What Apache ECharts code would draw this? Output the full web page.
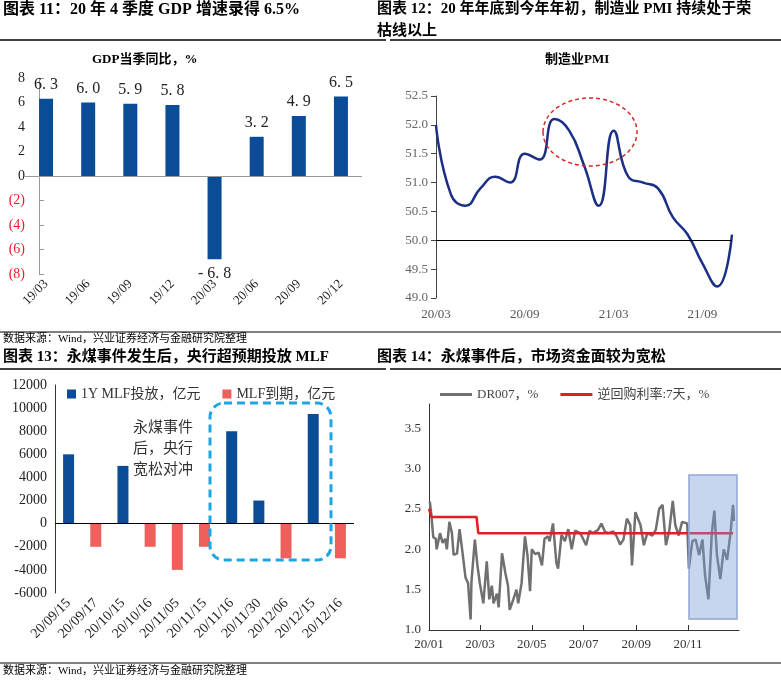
<!DOCTYPE html>
<html><head><meta charset="utf-8">
<script src="https://cdn.jsdelivr.net/npm/echarts@6/dist/echarts.min.js"></script>
<style>html,body{margin:0;padding:0;background:#fff}#c{width:781px;height:682px}</style>
</head><body><div id="c"></div>
<script>
const F = '"Liberation Serif","Noto Sans CJK SC",serif';
// Chart 11
const gdpCats = ['19/03','19/06','19/09','19/12','20/03','20/06','20/09','20/12'];
const gdpVals = [6.3,6.0,5.9,5.8,-6.8,3.2,4.9,6.5];
// Chart 12
const pmiCats = ['20/03','20/04','20/05','20/06','20/07','20/08','20/09','20/10','20/11','20/12','21/01','21/02','21/03','21/04','21/05','21/06','21/07','21/08','21/09','21/10','21/11'];
const pmiVals = [52.0,50.8,50.6,50.9,51.1,51.0,51.5,51.4,52.1,51.9,51.3,50.6,51.9,51.1,51.0,50.9,50.4,50.1,49.6,49.2,50.1];
// Chart 13
const mlfCats = ['20/09/15','20/09/17','20/10/15','20/10/16','20/11/05','20/11/15','20/11/16','20/11/30','20/12/06','20/12/15','20/12/16'];
const mlfIn = [6000,null,5000,null,null,null,8000,2000,null,9500,null];
const mlfOut = [null,-2000,null,-2000,-4000,-2000,null,null,-3000,null,-3000];
// Chart 14 (x = day of 2020)
const drDays = [1,3,5,8,9,13,16,19,21,24,27,29,33,36,39,43,46,49,50,54,57,60,64,68,71,74,76,80,82,86,90,93,95,99,103,105,109,113,116,119,121,125,129,133,136,140,142,146,150,152,156,160,164,168,172,178,181,185,189,193,199,203,207,211,217,221,225,229,233,237,239,243,249,253,257,263,267,271,275,279,283,287,290,294,298,304,306,310,314,318,322,325,329,333,336,339,343,347,351,355,358,359];
const drVals = [2.59,2.40,2.15,2.13,2.0,2.2,2.08,2.13,2.0,2.34,2.2,1.93,1.95,2.25,2.0,1.65,1.58,1.13,1.6,2.12,1.8,1.57,1.33,1.85,1.38,1.55,1.33,1.45,1.28,1.95,1.7,1.55,1.25,1.37,1.5,1.33,1.58,2.16,1.92,1.48,2.0,1.94,1.96,1.8,2.13,2.16,2.1,2.32,1.83,1.76,2.18,2.1,2.25,2.0,2.23,2.2,2.14,2.05,2.23,2.2,2.24,2.32,2.22,2.2,2.22,2.16,2.06,2.12,2.38,2.3,1.8,2.46,2.3,2.05,2.2,2.17,2.24,2.5,2.55,2.05,2.24,2.6,2.3,2.17,2.34,2.32,1.76,2.1,2.12,1.93,2.12,1.68,1.38,2.2,2.48,1.93,1.63,2.0,1.87,2.2,2.55,2.35];
const repoDays = [0,3,56,58,358];
const repoVals = [2.5,2.4,2.4,2.2,2.2];
const monthTicks = [0,60,121,182,244,305];
const monthLabels = ['20/01','20/03','20/05','20/07','20/09','20/11'];

const chart = echarts.init(document.getElementById('c'));
const txt = (x,y,t,o) => ({type:'text',left:x,top:y,style:Object.assign({text:t,font:'bold 15px '+F,fill:'#000'},o||{})});
const hl = (x1,x2,y,w) => ({type:'line',shape:{x1,y1:y,x2,y2:y},style:{stroke:'#000',lineWidth:w||1.5}});
const zeroLine = {silent:true,symbol:'none',label:{show:false},lineStyle:{color:'#000',type:'solid',width:1},data:[{yAxis:0}]};

chart.setOption({
  animation:false,
  textStyle:{fontFamily:F},
  graphic:[
    txt(3,2,'图表 11：20 年 4 季度 GDP 增速录得 6.5%',{font:'bold 16px '+F}),
    txt(377,2,'图表 12：20 年年底到今年年初，制造业 PMI 持续处于荣',{font:'bold 15px '+F}),
    txt(377,24,'枯线以上',{font:'bold 15px '+F}),
    hl(0,386,40), hl(390,781,40),
    txt(92,53,'GDP当季同比，%',{font:'bold 13px '+F}),
    txt(545,53,'制造业PMI',{font:'bold 13px '+F}),
    hl(0,781,332,1.2),
    txt(3,334,'数据来源：Wind，兴业证券经济与金融研究院整理',{font:'11px '+F}),
    txt(3,350,'图表 13：永煤事件发生后，央行超预期投放 MLF',{font:'bold 15px '+F}),
    txt(377,350,'图表 14：永煤事件后，市场资金面较为宽松',{font:'bold 15px '+F}),
    hl(0,386,369), hl(390,781,369),
    hl(0,781,663,1.2),
    txt(3,666,'数据来源：Wind，兴业证券经济与金融研究院整理',{font:'11px '+F}),
    txt(133,418,'永煤事件\n后，央行\n宽松对冲',{font:'15px '+F,fill:'#333',lineHeight:21}),
    {type:'rect',shape:{x:210,y:403,width:121,height:157,r:14},style:{fill:'none',stroke:'#1ea5e8',lineWidth:3,lineDash:[8,5]},z:100},
    {type:'ellipse',shape:{cx:590,cy:132,rx:47,ry:34},style:{fill:'none',stroke:'#d42a2a',lineWidth:1.5,lineDash:[4,3]},z:100},
    {type:'rect',shape:{x:689,y:475,width:48,height:144},style:{fill:'rgba(125,155,215,0.42)',stroke:'#8ea6d8',lineWidth:1.5},z:100}
  ],
  legend:[
    {left:62,top:382,itemWidth:9,itemHeight:9,itemGap:22,icon:'rect',textStyle:{fontFamily:F,fontSize:14,color:'#333'},data:['1Y MLF投放，亿元','MLF到期，亿元']},
    {left:435,top:383,itemWidth:32,itemHeight:3,itemGap:22,textStyle:{fontFamily:F,fontSize:13,color:'#444'},data:[{name:'DR007，%',icon:'rect'},{name:'逆回购利率:7天，%',icon:'rect'}]}
  ],
  grid:[
    {left:25,top:78,width:337,height:196},
    {left:436,top:96,width:296,height:202},
    {left:55,top:385,width:299,height:208},
    {left:429,top:404,width:310,height:226}
  ],
  xAxis:[
    {gridIndex:0,type:'category',data:gdpCats,axisLine:{show:false,onZero:false},axisTick:{show:false},
     axisLabel:{fontFamily:F,fontSize:13,color:'#222',rotate:45,margin:8,interval:0}},
    {gridIndex:1,type:'category',data:pmiCats,boundaryGap:false,axisLine:{show:false,onZero:false},axisTick:{show:false},
     axisLabel:{fontFamily:F,fontSize:13,color:'#555',interval:(i)=>i%6===0,margin:10}},
    {gridIndex:2,type:'category',data:mlfCats,axisLine:{show:false,onZero:false},axisTick:{show:false},
     axisLabel:{fontFamily:F,fontSize:14,color:'#222',rotate:45,margin:8,interval:0}},
    {gridIndex:3,type:'value',min:0,max:365,splitLine:{show:false},axisLine:{show:true,onZero:false,lineStyle:{color:'#333'}},
     axisTick:{show:true,inside:true,customValues:monthTicks,lineStyle:{color:'#333'}},
     axisLabel:{fontFamily:F,fontSize:13,color:'#333',customValues:monthTicks,formatter:(v)=>monthLabels[monthTicks.indexOf(v)]||''}}
  ],
  yAxis:[
    {gridIndex:0,type:'value',min:-8,max:8,interval:2,offset:-14,splitLine:{show:false},
     axisLine:{show:true,lineStyle:{color:'#999'}},axisTick:{show:true,inside:true,lineStyle:{color:'#999'}},
     axisLabel:{fontFamily:F,fontSize:14,margin:14,formatter:(v)=>v<0?'('+(-v)+')':String(v),color:(v)=>Number(v)<0?'#e8202a':'#222'}},
    {gridIndex:1,type:'value',min:49,max:52.5,interval:0.5,splitLine:{show:false},
     axisLine:{show:true,lineStyle:{color:'#444'}},axisTick:{show:true,lineStyle:{color:'#444'}},
     axisLabel:{fontFamily:F,fontSize:13,color:'#666',formatter:(v)=>v.toFixed(1)}},
    {gridIndex:2,type:'value',min:-6000,max:12000,interval:2000,splitLine:{show:false},
     axisLine:{show:true,lineStyle:{color:'#333'}},axisTick:{show:false},
     axisLabel:{fontFamily:F,fontSize:14,color:'#222',formatter:(v)=>String(v)}},
    {gridIndex:3,type:'value',min:1,max:3.8,interval:0.5,splitLine:{show:false},
     axisLine:{show:true,lineStyle:{color:'#333'}},axisTick:{show:false},
     axisLabel:{fontFamily:F,fontSize:13,color:'#333',showMaxLabel:false,formatter:(v)=>v.toFixed(1)}}
  ],
  series:[
    {type:'bar',xAxisIndex:0,yAxisIndex:0,barWidth:14,itemStyle:{color:'#0b4c96'},
     data:gdpVals.map(v=>({value:v,label:{position:v<0?'bottom':'top'}})),
     label:{show:true,fontFamily:F,fontSize:16,color:'#222',distance:6,
       formatter:(p)=>p.value.toFixed(1).replace('.','. ').replace('-','- ')},
     markLine:Object.assign({},zeroLine,{lineStyle:{color:'#999',width:1,type:'solid'}})},
    {type:'line',xAxisIndex:1,yAxisIndex:1,data:pmiVals,smooth:0.5,symbol:'none',lineStyle:{color:'#1c2f87',width:2.5},
     markLine:{silent:true,symbol:'none',label:{show:false},lineStyle:{color:'#000',type:'solid',width:1},data:[{yAxis:50}]}},
    {name:'1Y MLF投放，亿元',type:'bar',xAxisIndex:2,yAxisIndex:2,data:mlfIn,barWidth:11,barGap:'-100%',itemStyle:{color:'#0b4c96'},
     markLine:zeroLine},
    {name:'MLF到期，亿元',type:'bar',xAxisIndex:2,yAxisIndex:2,data:mlfOut,barWidth:11,barGap:'-100%',itemStyle:{color:'#ef5f5c'}},
    {name:'DR007，%',type:'line',xAxisIndex:3,yAxisIndex:3,data:drDays.map((d,i)=>[d,drVals[i]]),symbol:'none',lineStyle:{color:'#707070',width:2.5},itemStyle:{color:'#707070'}},
    {name:'逆回购利率:7天，%',type:'line',xAxisIndex:3,yAxisIndex:3,data:repoDays.map((d,i)=>[d,repoVals[i]]),symbol:'none',lineStyle:{color:'#e02020',width:2.5},itemStyle:{color:'#e02020'}}
  ]
});
</script></body></html>
